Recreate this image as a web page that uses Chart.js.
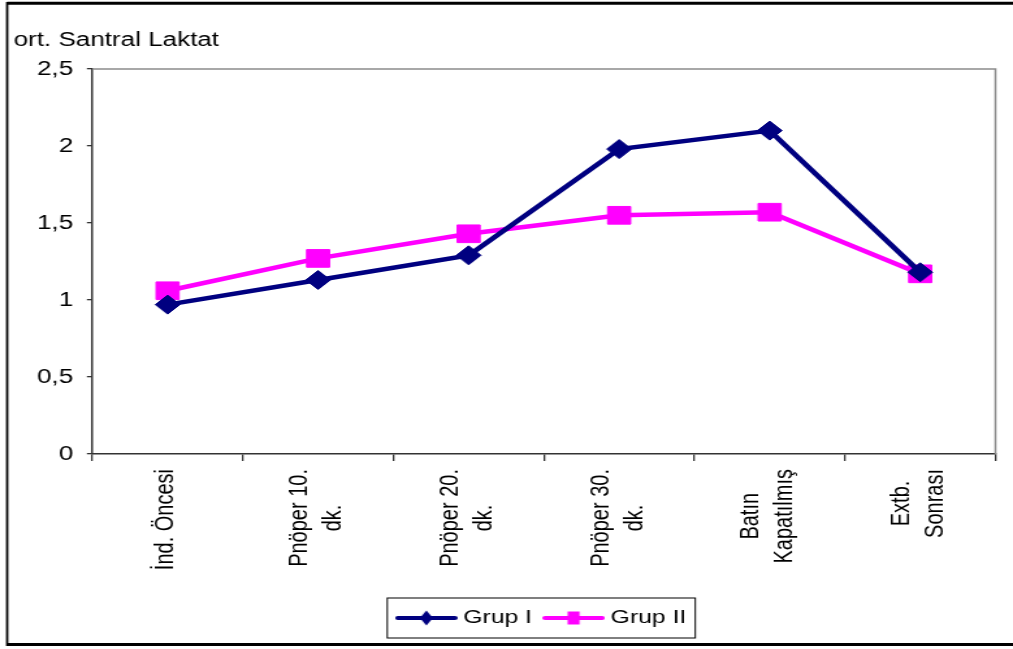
<!DOCTYPE html>
<html lang="tr">
<head>
<meta charset="utf-8">
<title>ort. Santral Laktat</title>
<script src="https://cdn.jsdelivr.net/npm/chart.js"></script>
<style>
    html, body { margin: 0; padding: 0; background: #fff; }
    canvas { display: block; }
</style>
</head>
<body>
<!-- drawn narrow, then stretched horizontally like the original sheet -->
<canvas id="laktatChart" width="779" height="649" style="width:1013px;height:649px"></canvas>
<script>
const categories = [
    ['İnd. Öncesi'],
    ['Pnöper 10.', 'dk.'],
    ['Pnöper 20.', 'dk.'],
    ['Pnöper 30.', 'dk.'],
    ['Batın', 'Kapatılmış'],
    ['Extb.', 'Sonrası']
];
const grupI = [0.97, 1.13, 1.29, 1.98, 2.10, 1.18];
const grupII = [1.06, 1.27, 1.43, 1.55, 1.57, 1.17];
const yTickLabels = ['0', '0,5', '1', '1,5', '2', '2,5'];

const NAVY = '#000080';
const MAGENTA = '#ff00ff';
const AXIS = '#333333';
const FONT = '"Liberation Sans", Arial, sans-serif';

Chart.defaults.font.family = FONT;
Chart.defaults.color = '#000';

// small line+marker icons for the legend
function legendIcon(color, kind) {
    const c = document.createElement('canvas');
    c.width = 48;
    c.height = 18;
    const g = c.getContext('2d');
    g.strokeStyle = color;
    g.lineWidth = 4;
    g.lineCap = 'round';
    g.beginPath();
    g.moveTo(2, 9);
    g.lineTo(46, 9);
    g.stroke();
    g.fillStyle = color;
    g.beginPath();
    if (kind === 'diamond') {
        g.moveTo(19, 9);
        g.lineTo(24, 1.5);
        g.lineTo(29, 9);
        g.lineTo(24, 16.5);
        g.closePath();
    } else {
        g.rect(19.4, 2.5, 9.2, 13);
    }
    g.fill();
    return c;
}
const legendIcons = [legendIcon(NAVY, 'diamond'), legendIcon(MAGENTA, 'square')];

// outer frame of the sheet
const framePlugin = {
    id: 'frame',
    beforeDraw(chart) {
        const ctx = chart.ctx;
        ctx.save();
        ctx.fillStyle = '#fff';
        ctx.fillRect(0, 0, chart.width, chart.height);
        ctx.strokeStyle = '#000';
        ctx.lineWidth = 3;
        ctx.beginPath();
        ctx.moveTo(chart.width + 5, 3.2);
        ctx.lineTo(5.5, 3.2);
        ctx.moveTo(5.5, 644.5);
        ctx.lineTo(chart.width + 5, 644.5);
        ctx.stroke();
        ctx.lineWidth = 1.8;
        ctx.beginPath();
        ctx.moveTo(5.5, 2);
        ctx.lineTo(5.5, 646);
        ctx.stroke();
        ctx.restore();
    }
};

// grey top and right edges of the plot area
const plotBorderPlugin = {
    id: 'plotBorder',
    beforeDatasetsDraw(chart) {
        const {ctx, chartArea: a} = chart;
        ctx.save();
        ctx.strokeStyle = '#8c8c8c';
        ctx.lineWidth = 1.5;
        ctx.beginPath();
        ctx.moveTo(a.left, a.top);
        ctx.lineTo(a.right, a.top);
        ctx.lineTo(a.right, a.bottom);
        ctx.stroke();
        ctx.restore();
    }
};

// vertical category labels, lines centred on each other
const xLabelPlugin = {
    id: 'xLabels',
    afterDraw(chart) {
        const ctx = chart.ctx;
        const xScale = chart.scales.x;
        const top = chart.chartArea.bottom + 15;
        const lineGap = 26;
        ctx.save();
        ctx.font = '20px ' + FONT;
        ctx.fillStyle = '#000';
        ctx.textAlign = 'center';
        ctx.textBaseline = 'middle';
        categories.forEach((lines, i) => {
            const x = xScale.getPixelForValue(i) - 1;
            const maxW = Math.max(...lines.map(l => ctx.measureText(l).width));
            lines.forEach((line, k) => {
                const dx = (k - (lines.length - 1) / 2) * lineGap;
                ctx.save();
                ctx.translate(x + dx, top + maxW / 2);
                ctx.rotate(-Math.PI / 2);
                ctx.fillText(line, 0, 0);
                ctx.restore();
            });
        });
        ctx.restore();
    }
};

// thin box round the legend
const legendBoxPlugin = {
    id: 'legendBox',
    afterDraw(chart) {
        const hb = chart.legend && chart.legend.legendHitBoxes;
        if (!hb || !hb.length) return;
        const first = hb[0];
        const last = hb[hb.length - 1];
        const left = first.left - 11;
        const right = last.left + last.width + 7;
        const cy = first.top + first.height / 2;
        const ctx = chart.ctx;
        ctx.save();
        ctx.strokeStyle = '#000';
        ctx.lineWidth = 1;
        ctx.strokeRect(left, cy - 20, right - left, 40);
        ctx.restore();
    }
};

const data = {
    labels: categories,
    datasets: [{
        label: 'Grup I',
        data: grupI,
        borderColor: NAVY,
        backgroundColor: NAVY,
        borderWidth: 4.5,
        pointStyle: 'rectRot',
        pointRadius: 9.5,
        pointBorderWidth: 1,
        pointBackgroundColor: NAVY,
        pointBorderColor: NAVY
    }, {
        label: 'Grup II',
        data: grupII,
        borderColor: MAGENTA,
        backgroundColor: MAGENTA,
        borderWidth: 4.5,
        pointStyle: 'rect',
        pointRadius: 12.5,
        pointBorderWidth: 1,
        pointBackgroundColor: MAGENTA,
        pointBorderColor: MAGENTA
    }]
};

const config = {
    type: 'line',
    data: data,
    options: {
        responsive: false,
        devicePixelRatio: 1,
        animation: false,
        layout: {
            padding: { top: 28, left: 10.5, right: 9.2, bottom: 11.5 }
        },
        elements: {
            line: { tension: 0 }
        },
        scales: {
            x: {
                offset: true,
                grid: {
                    offset: true,
                    drawOnChartArea: false,
                    drawTicks: true,
                    tickLength: 7,
                    color: AXIS,
                    lineWidth: 1.3
                },
                border: { color: AXIS, width: 1.5 },
                ticks: { display: false },
                afterFit(scale) { scale.height = 141.5; }
            },
            y: {
                min: 0,
                max: 2.5,
                grid: {
                    drawOnChartArea: false,
                    drawTicks: true,
                    tickLength: 4.2,
                    color: AXIS,
                    lineWidth: 1.3
                },
                border: { color: AXIS, width: 1.5 },
                ticks: {
                    stepSize: 0.5,
                    padding: 10.5,
                    color: '#000',
                    font: { size: 20 },
                    callback: (value) => yTickLabels[Math.round(value / 0.5)]
                },
                afterFit(scale) { scale.width = 60.5; }
            }
        },
        plugins: {
            title: {
                display: true,
                text: 'ort. Santral Laktat',
                align: 'start',
                color: '#000',
                font: { size: 20, weight: 'normal' },
                padding: { top: 0, bottom: 17 }
            },
            legend: {
                position: 'bottom',
                fullSize: false,
                labels: {
                    usePointStyle: true,
                    pointStyleWidth: 38,
                    padding: 13,
                    color: '#000',
                    font: { size: 19 },
                    generateLabels(chart) {
                        const items = Chart.defaults.plugins.legend.labels.generateLabels(chart);
                        items.forEach(item => {
                            item.pointStyle = legendIcons[item.datasetIndex];
                        });
                        return items;
                    }
                }
            },
            tooltip: { enabled: false }
        }
    },
    plugins: [framePlugin, plotBorderPlugin, xLabelPlugin, legendBoxPlugin]
};

const laktatChart = new Chart(document.getElementById('laktatChart'), config);
</script>
</body>
</html>
